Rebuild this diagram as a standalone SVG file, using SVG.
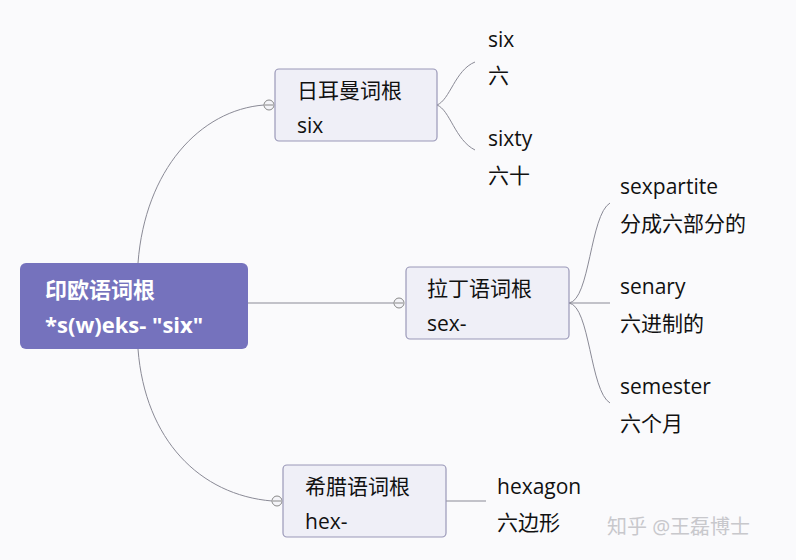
<svg xmlns="http://www.w3.org/2000/svg" width="796" height="560" viewBox="0 0 796 560">
<style>
text{font-family:"Open Sans","Noto Sans CJK SC",sans-serif;font-size:21px;fill:#111}
.box{fill:#efeff7;stroke:#9a98b8;stroke-width:1.2}
.c{fill:#f4f4f8;stroke:#888;stroke-width:1}
.e{fill:none;stroke:#8a8a96;stroke-width:1}
.r{font-weight:bold;fill:#fff;font-size:22px}
</style>
<rect width="796" height="560" fill="#fafafc"/>
<g id="connectors">
<path class="e" d="M138 263 C145 170 200 110 264 105"/>
<path class="e" d="M248 303 L394 303"/>
<path class="e" d="M138 349 C145 440 200 495 272 501"/>
<path class="e" d="M437 105 C450 100 455 70 475 62"/>
<path class="e" d="M437 105 C450 110 455 140 475 150"/>
<path class="e" d="M569 303 C590 300 590 215 610 203"/>
<path class="e" d="M569 303 L610 303"/>
<path class="e" d="M569 303 C590 306 590 391 610 403"/>
<path class="e" d="M446 501 L486 501"/>
<g class="c"><circle cx="269" cy="105" r="5"/><circle cx="399" cy="303" r="5"/><circle cx="277" cy="501" r="5"/></g>
<g stroke="#888"><line x1="265" y1="105" x2="273" y2="105"/><line x1="395" y1="303" x2="403" y2="303"/><line x1="273" y1="501" x2="281" y2="501"/></g>
</g>
<g id="root"><rect x="20" y="263" width="228" height="86" rx="6" fill="#7572bd"/>
<text class="r" x="45" y="298">印欧语词根</text><text class="r" x="45" y="333">*s(w)eks- "six"</text></g>
<g id="german"><rect class="box" x="275" y="69" width="162" height="72" rx="4"/>
<text x="297" y="98">日耳曼词根</text><text x="297" y="133">six</text></g>
<g id="latin"><rect class="box" x="406" y="267" width="163" height="72" rx="4"/>
<text x="427" y="296">拉丁语词根</text><text x="427" y="331">sex-</text></g>
<g id="greek"><rect class="box" x="283" y="465" width="163" height="72" rx="4"/>
<text x="305" y="494">希腊语词根</text><text x="305" y="529">hex-</text></g>
<g id="six"><text x="488" y="47">six</text><text x="488" y="83">六</text></g>
<g id="sixty"><text x="488" y="146">sixty</text><text x="488" y="183">六十</text></g>
<g id="sexpartite"><text x="620" y="194">sexpartite</text><text x="620" y="231">分成六部分的</text></g>
<g id="senary"><text x="620" y="294">senary</text><text x="620" y="331">六进制的</text></g>
<g id="semester"><text x="620" y="394">semester</text><text x="620" y="431">六个月</text></g>
<g id="hexagon"><text x="497" y="494">hexagon</text><text x="497" y="530">六边形</text></g>
<text x="607" y="534" style="fill:#c8c8cc;font-size:20px">知乎 @王磊博士</text>
</svg>
